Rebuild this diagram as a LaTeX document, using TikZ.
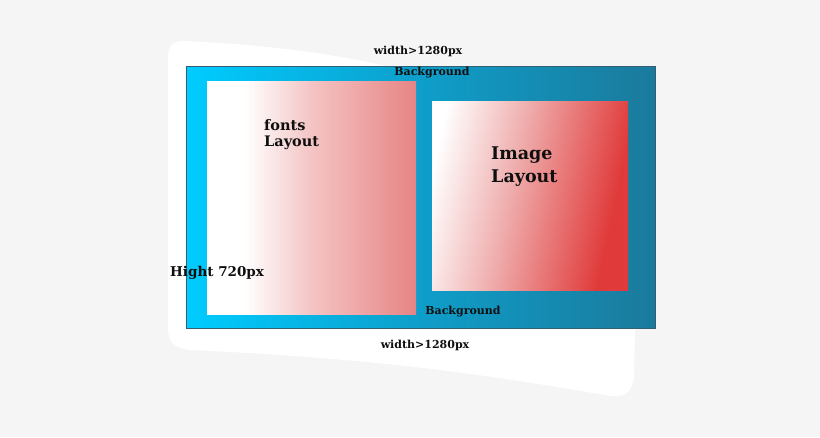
\documentclass[tikz,border=0pt]{standalone}
\usepackage{fontspec}
\setmainfont{DejaVu Serif}
\definecolor{pagebg}{RGB}{245,245,245}
\definecolor{cyanL}{RGB}{0,204,255}
\definecolor{blueM}{RGB}{14,158,202}
\definecolor{blueR}{RGB}{27,122,156}
\definecolor{rimline}{RGB}{50,95,115}
\definecolor{pinkM}{RGB}{244,196,196}
\definecolor{pinkR}{RGB}{231,132,132}
\definecolor{redM}{RGB}{239,172,172}
\definecolor{redR}{RGB}{224,58,58}
\definecolor{txt}{RGB}{15,15,15}
\pgfdeclarehorizontalshading{outerbg}{100bp}{color(0bp)=(cyanL); color(25bp)=(cyanL); color(50bp)=(blueM); color(75bp)=(blueR); color(100bp)=(blueR)}
\pgfdeclarehorizontalshading{leftpanel}{100bp}{color(0bp)=(white); color(25bp)=(white); color(34bp)=(white); color(50bp)=(pinkM); color(75bp)=(pinkR); color(100bp)=(pinkR)}
\pgfdeclarehorizontalshading{rightpanel}{100bp}{color(0bp)=(white); color(24bp)=(white); color(45bp)=(redM); color(72bp)=(redR); color(100bp)=(redR)}
\tikzset{
  small label/.style={font=\bfseries\fontsize{11}{13}\selectfont, text=txt, inner sep=0pt},
  mid label/.style={font=\bfseries\fontsize{14.5}{16}\selectfont, text=txt, inner sep=0pt, align=left},
  hight label/.style={font=\bfseries\fontsize{13.5}{16}\selectfont, text=txt, inner sep=0pt},
  big label/.style={font=\bfseries\fontsize{17.5}{23}\selectfont, text=txt, inner sep=0pt, align=left},
}
\begin{document}
\begin{tikzpicture}[x=1pt,y=-1pt]
\fill[pagebg] (0,0) rectangle (820,437);
\useasboundingbox (0,0) rectangle (820,437);
% white sheet
\fill[white] (168,58) .. controls (168,46) and (172,41) .. (184,41)
  .. controls (270,45) and (330,53) .. (395,68)
  -- (645,90) -- (645,328) -- (635,330)
  -- (634,375) .. controls (633,392) and (625,397) .. (612,396)
  .. controls (540,385) and (420,360) .. (190,350)
  .. controls (174,348) and (168,342) .. (168,328) -- cycle;
% outer background rectangle
\shade[shading=outerbg] (186,66) rectangle (655,328);
\draw[rimline, line width=0.8pt] (186,66) rectangle (655,328);
% panels
\shade[shading=leftpanel] (207,81) rectangle (416,314);
\shade[shading=rightpanel, shading angle=-12] (432,101) rectangle (628,290);
% labels
\node[small label] (wtop) at (418,51) {width>1280px};
\node[small label] (bgtop) at (432,73) {Background};
\node[mid label, anchor=west] (fonts) at (264,135) {fonts\\Layout};
\node[big label, anchor=west] (image) at (491,166.5) {Image\\Layout};
\node[hight label, anchor=west] (hight) at (170,273) {Hight 720px};
\node[small label] (bgbot) at (463,312) {Background};
\node[small label] (wbot) at (425,345) {width>1280px};
\end{tikzpicture}
\end{document}
